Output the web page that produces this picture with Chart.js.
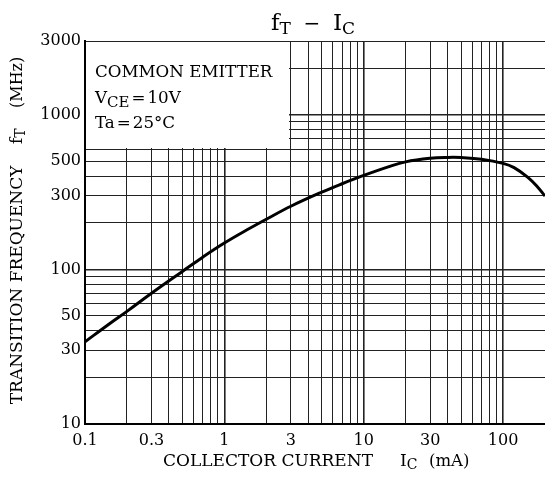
<!DOCTYPE html>
<html>
<head>
<meta charset="utf-8">
<script src="https://cdn.jsdelivr.net/npm/chart.js@4/dist/chart.umd.min.js"></script>
<style>
  html, body { margin: 0; padding: 0; background: #fff; overflow: hidden; }
  #wrap { position: relative; width: 545px; height: 491px; }
</style>
</head>
<body>
<div id="wrap"><canvas id="c" width="545" height="491"></canvas></div>
<script>
// ---- data ----
const currentMA = [0.1, 0.15, 0.2, 0.3, 0.5, 0.7, 1, 1.5, 2, 3, 5, 7, 10, 15, 20, 30, 40, 50, 70, 100, 120, 150, 175, 200];
const ftMHz     = [34, 44.5, 53.5, 70, 97, 120, 148, 183, 211, 256, 316, 358, 405, 460, 496, 523, 530, 529, 516, 485, 455, 395, 345, 298];

const xTickLabels = [0.1, 0.3, 1, 3, 10, 30, 100];
const yTickLabels = [10, 30, 50, 100, 300, 500, 1000, 3000];
const xGridValues = [0.1, 0.2, 0.3, 0.4, 0.5, 0.6, 0.7, 0.8, 0.9,
                     1, 2, 3, 4, 5, 6, 7, 8, 9,
                     10, 20, 30, 40, 50, 60, 70, 80, 90, 100];
const yGridValues = [10, 20, 30, 40, 50, 60, 70, 80, 90,
                     100, 200, 300, 400, 500, 600, 700, 800, 900,
                     1000, 2000, 3000];
const decadeValues = [0.1, 1, 10, 100, 1000];

// annotation box corner (data units): box spans x < 3 mA, y > 600 MHz
const boxCornerX = 3;
const boxCornerY = 600;

const FONT = '"DejaVu Serif", "Liberation Serif", serif';

function near(a, b) { return Math.abs(a - b) / b < 1e-6; }
function isDecade(v) { return decadeValues.some(d => near(v, d)); }

const blankBox = {
  id: 'blankBox',
  beforeDatasetsDraw(chart) {
    const { ctx, chartArea, scales } = chart;
    const xr = scales.x.getPixelForValue(boxCornerX);
    const yb = scales.y.getPixelForValue(boxCornerY);
    ctx.save();
    ctx.fillStyle = '#fff';
    const l = chartArea.left + 1, t = chartArea.top + 1;
    ctx.fillRect(l, t, Math.floor(xr) - 1 - l, Math.floor(yb) - 1 - t);
    ctx.restore();
  }
};

function drawRuns(ctx, x, y, runs, align) {
  // runs: [{t, size, dy, gap}]
  let total = 0;
  runs.forEach(r => {
    ctx.font = r.size + 'px ' + FONT;
    r.w = ctx.measureText(r.t).width + (r.gap || 0);
    total += r.w;
  });
  let cx = align === 'center' ? x - total / 2 : x;
  runs.forEach(r => {
    ctx.font = r.size + 'px ' + FONT;
    ctx.fillText(r.t, cx, y + (r.dy || 0));
    cx += r.w;
  });
}

const texts = {
  id: 'texts',
  afterDraw(chart) {
    const { ctx, chartArea } = chart;
    ctx.save();
    ctx.fillStyle = '#000';
    ctx.textBaseline = 'alphabetic';
    ctx.textAlign = 'left';
    // title
    drawRuns(ctx, 313, 30, [
      { t: 'f', size: 23 }, { t: 'T', size: 17, dy: 4 },
      { t: '  \u2212  ', size: 20 },
      { t: 'I', size: 23 }, { t: 'C', size: 17, dy: 4 }
    ], 'center');
    // annotation
    drawRuns(ctx, 95, 77, [{ t: 'COMMON EMITTER', size: 16.7 }]);
    drawRuns(ctx, 95, 103, [
      { t: 'V', size: 16.7 }, { t: 'CE', size: 15, dy: 4, gap: 2 },
      { t: '=', size: 16.7, gap: 2 }, { t: '10V', size: 16.7 }
    ]);
    drawRuns(ctx, 95, 128, [
      { t: 'Ta', size: 16.7, gap: 2 }, { t: '=', size: 16.7, gap: 2 }, { t: '25\u00B0C', size: 16.7 }
    ]);
    // x axis title
    drawRuns(ctx, 163, 466, [{ t: 'COLLECTOR CURRENT', size: 17 }]);
    drawRuns(ctx, 400, 466, [{ t: 'I', size: 17 }, { t: 'C', size: 14, dy: 3 }]);
    drawRuns(ctx, 429, 466, [{ t: '(mA)', size: 16.5 }]);
    // y axis title (rotated)
    ctx.translate(22, (chartArea.top + chartArea.bottom) / 2 - 2);
    ctx.rotate(-Math.PI / 2);
    drawRuns(ctx, 0, 0, [
      { t: 'TRANSITION FREQUENCY', size: 17 },
      { t: '    f', size: 17 }, { t: 'T', size: 14, dy: 3 },
      { t: '    (MHz)', size: 16 }
    ], 'center');
    ctx.restore();
  }
};

function gridStyle(ctx) {
  const v = ctx.tick ? ctx.tick.value : null;
  return v != null && isDecade(v) ? 1.6 : 1;
}

new Chart(document.getElementById('c'), {
  type: 'line',
  data: {
    datasets: [{
      data: currentMA.map((x, i) => ({ x: x, y: ftMHz[i] })),
      borderColor: '#000',
      borderWidth: 3,
      pointRadius: 0,
      fill: false,
      tension: 0.4
    }]
  },
  options: {
    responsive: false,
    animation: false,
    devicePixelRatio: 1,
    layout: { padding: { top: 41, right: 0, left: 0, bottom: 0 } },
    plugins: { legend: { display: false }, tooltip: { enabled: false }, title: { display: false } },
    scales: {
      x: {
        type: 'logarithmic',
        min: 0.1, max: 200,
        afterBuildTicks(scale) { scale.ticks = xGridValues.map(v => ({ value: v })); },
        afterFit(scale) { scale.height = 67; },
        grid: { color: '#222', lineWidth: gridStyle, drawTicks: false },
        border: { display: true, color: '#000', width: 2 },
        ticks: {
          autoSkip: false, maxRotation: 0, padding: 7, color: '#000',
          font: { family: FONT, size: 16 },
          callback: (v) => {
            const m = xTickLabels.find(t => near(v, t));
            return m !== undefined ? String(m) : '';
          }
        }
      },
      y: {
        type: 'logarithmic',
        min: 10, max: 3000,
        afterBuildTicks(scale) { scale.ticks = yGridValues.map(v => ({ value: v })); },
        afterFit(scale) { scale.width = 85; },
        grid: { color: '#222', lineWidth: gridStyle, drawTicks: false },
        border: { display: true, color: '#000', width: 2 },
        ticks: {
          autoSkip: false, padding: 4, color: '#000',
          font: { family: FONT, size: 16 },
          callback: (v) => {
            const m = yTickLabels.find(t => near(v, t));
            return m !== undefined ? String(m) : '';
          }
        }
      }
    }
  },
  plugins: [blankBox, texts]
});
</script>
</body>
</html>
